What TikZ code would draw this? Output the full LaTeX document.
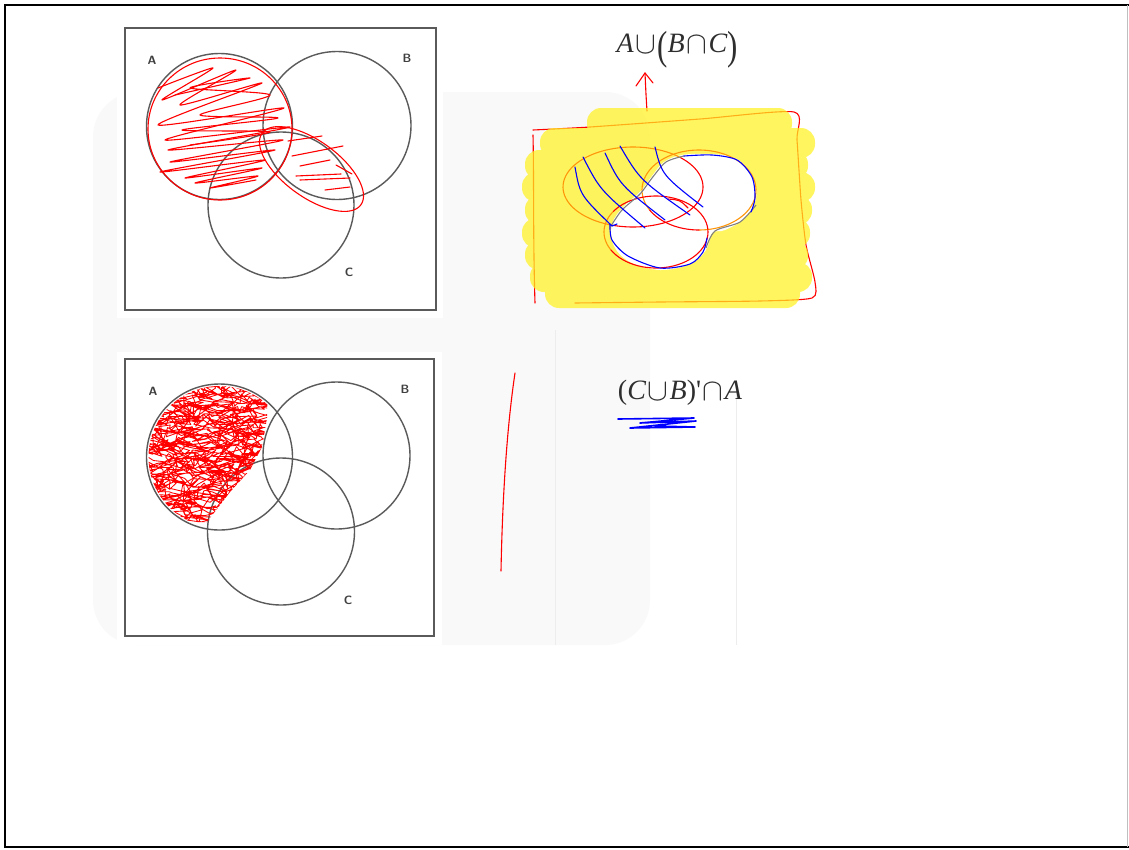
\documentclass[tikz,border=0pt]{standalone}
\usepackage{fontspec}
\usepackage{graphicx}
\newfontfamily\fserif{Liberation Serif}
\definecolor{hlyellow}{RGB}{255,242,34}
\definecolor{penorange}{RGB}{255,150,10}
\definecolor{penred}{RGB}{255,0,0}
\definecolor{penblue}{RGB}{0,0,255}
\definecolor{scan}{RGB}{90,90,90}
\newcommand{\bigparen}[1]{\raisebox{-7pt}{\scalebox{1.1}[1.45]{#1}}}
\newcommand{\vi}[1]{{\itshape #1}}
\newcommand{\opU}{\kern1.5pt\raisebox{-1pt}{\scalebox{1.25}{$\cup$}}\kern1.5pt}
\newcommand{\opN}{\kern1.5pt\raisebox{-1pt}{\scalebox{1.25}{$\cap$}}\kern1.5pt}
\begin{document}
\begin{tikzpicture}[x=1pt,y=-1pt,
  boxline/.style={draw=scan, line width=1.4},
  venn/.style={draw=scan, line width=1.4},
  lbl/.style={font=\fontsize{12}{14}\selectfont\sffamily\bfseries, text=black!75, inner sep=0},
  formula/.style={font=\fontsize{28}{32}\selectfont\fserif, text=black!82, inner sep=0},
  pen/.style={draw=penred, line width=1.1, line cap=round, line join=round},
  open/.style={draw=penorange, line width=1.1, line cap=round, line join=round},
  bpen/.style={draw=penblue, line width=1.1, line cap=round, line join=round},
  faint/.style={draw=gray!14, line width=0.6}
]
\useasboundingbox (0,0) rectangle (1129,849);
\fill[white] (0,0) rectangle (1129,849);

% scan background
\fill[gray!5, rounded corners=45] (93,92) rectangle (650,645);
\draw[faint] (555,330) -- (555,645);
\draw[faint] (736,380) -- (736,645);
\fill[white] (117,20) rectangle (443,318);
\fill[white] (117,352) rectangle (442,645);

% outer frame
\draw[black, line width=2] (1129,5) -- (5,5) -- (5,847) -- (1129,847);
\draw[gray!50, line width=1] (1127,5) -- (1127,847);

% ---------- Venn box 1 ----------
\draw[boxline] (125,28) rectangle (436,310);
\draw[venn] (219.5,126.5) circle (73);
\draw[venn] (337,125.5) circle (74);
\draw[venn] (281,205) circle (73);
\node[lbl] (lA1) at (152,60) {A};
\node[lbl] (lB1) at (407,58) {B};
\node[lbl] (lC1) at (349,272) {C};

% red marks box 1
\draw[pen] (220,129) ellipse (72 and 71);
\draw[pen] plot[smooth, tension=0.45] coordinates {(158,88) (213,68) (162,100) (236,70) (180,105) (262,83) (158,125) (284,108) (165,140) (290,127) (168,150) (283,140) (170,162) (275,150) (160,172) (265,160) (185,178) (262,168) (195,183) (258,176) (210,188) (256,180)};
\draw[pen] plot[smooth, tension=0.45] coordinates {(175,95) (250,78) (190,88) (270,95) (200,115) (278,118) (182,130) (270,132) (190,145)};
\draw[pen] (311.5,169) ellipse[x radius=61, y radius=28, rotate=-36];
\draw[pen] (288,141) -- (322,136);
\draw[pen] (292,156) -- (343,146);
\draw[pen] (300,166) -- (330,160);
\draw[pen] (296,176) -- (341,174);
\draw[pen] (300,180) -- (350,178);
\draw[pen] (325,190) -- (350,187);
\draw[pen] (336,165) -- (352,174);

% ---------- Venn box 2 ----------
\draw[boxline] (125,359) rectangle (434,636);
\draw[venn] (219.5,457) circle (73);
\draw[venn] (336.5,455.5) circle (73.5);
\draw[venn] (281,531.5) circle (73.5);
\node[lbl] (lA2) at (153,391) {A};
\node[lbl] (lB2) at (405,389) {B};
\node[lbl] (lC2) at (348,600) {C};

\begin{scope}
  \clip (219.5,457) circle (71);
  \clip (140,375) -- (268,375) -- (267,418) -- (262,447) -- (250,470) -- (230,492) -- (207,522) -- (140,522) -- cycle;
  \pgfmathsetseed{7}
  \draw[pen, line width=0.85] (150,385) \foreach \i in {1,...,1400}{ -- ({140+130*abs(mod(\i/16,2)-1)+26*(rnd-0.5)},{381+\i*0.1+16*(rnd-0.5)}) };
\end{scope}

% ---------- right-hand notes ----------
\node[formula] (f1) at (677,50) {\vi{A}\opU\bigparen{(}\vi{B}\opN\vi{C}\bigparen{)}};
\coordinate (arrowtail) at (647,111);
\coordinate (arrowtip) at (645,73);
\draw[pen] (arrowtail) .. controls (646,95) .. (arrowtip);
\draw[pen] (636,86) -- (arrowtip) -- (653,83);

% red frame (under the highlighter)
\draw[pen] (535,303) .. controls (533,240) and (534,180) .. (533,135);
\draw[pen] plot[smooth, tension=0.4] coordinates {(533,130) (590,127) (700,119) (794,112) (797,140) (801,200) (806,245) (815,282) (812,298) (760,301) (660,302) (575,303)};

% highlighter
\fill[hlyellow, fill opacity=0.72, rounded corners=14]
  (587,108) rectangle (792,138)
  (540,128) rectangle (815,158)
  (525,150) rectangle (808,180)
  (522,172) rectangle (815,202)
  (525,195) rectangle (812,225)
  (522,218) rectangle (810,248)
  (525,240) rectangle (808,270)
  (530,262) rectangle (812,292)
  (545,278) rectangle (800,308);

% un-highlighted part
\fill[white] plot[smooth cycle, tension=0.6] coordinates {(612,224) (624,206) (640,192) (652,176) (664,162) (682,155) (710,154) (735,158) (752,175) (756,198) (745,218) (725,230) (712,233) (706,250) (690,264) (660,270) (630,262) (614,246)};

% sketch ellipses
\draw[open] plot[domain=108:313, samples=50, smooth] ({633+70*cos(\x)},{187+40*sin(\x)});
\draw[pen]  plot[domain=313:468, samples=50, smooth] ({633+70*cos(\x)},{187+40*sin(\x)});
\draw[open] plot[domain=150:450, samples=60, smooth] ({699+57*cos(\x)},{190+40*sin(\x)});
\draw[pen]  plot[domain=90:150, samples=20, smooth] ({699+57*cos(\x)},{190+40*sin(\x)});
\draw[open] plot[domain=150:215, samples=20, smooth] ({656+52*cos(\x)},{232+36*sin(\x)});
\draw[pen]  plot[domain=215:510, samples=60, smooth] ({656+52*cos(\x)},{232+36*sin(\x)});
\draw[pen] (668,199) .. controls (680,200) .. (688,208);

\draw[gray, line width=1.1] plot[smooth] coordinates {(611,226) (622,210) (640,194) (652,178) (666,162) (684,156)};
\draw[gray, line width=1.1] plot[smooth] coordinates {(756,205) (740,222) (715,231) (706,248)};

\draw[bpen] plot[smooth] coordinates {(684,156) (712,155) (737,160) (752,177) (755,198) (751,212)};
\draw[bpen] plot[smooth] coordinates {(610,224) (612,240) (628,256) (660,268) (690,264) (703,252) (707,238)};

\draw[bpen] (575,167) .. controls (580,195) .. (612,226) -- (617,224);
\draw[bpen] (583,157) .. controls (600,190) .. (645,228);
\draw[bpen] (605,153) .. controls (620,185) .. (665,220);
\draw[bpen] (620,146) .. controls (640,180) .. (690,215);
\draw[bpen] (655,147) .. controls (662,175) .. (703,207);

% second expression
\draw[pen] (515,373) .. controls (505,440) and (502,520) .. (501,571);
\node[formula] (f2) at (680,393) {(\vi{C}\opU\vi{B})'\opN\vi{A}};
\draw[bpen, line width=1.6] (618,419) -- (694,418) -- (640,423) -- (696,421) -- (630,428) -- (695,427) -- (655,426);

\end{tikzpicture}
\end{document}
